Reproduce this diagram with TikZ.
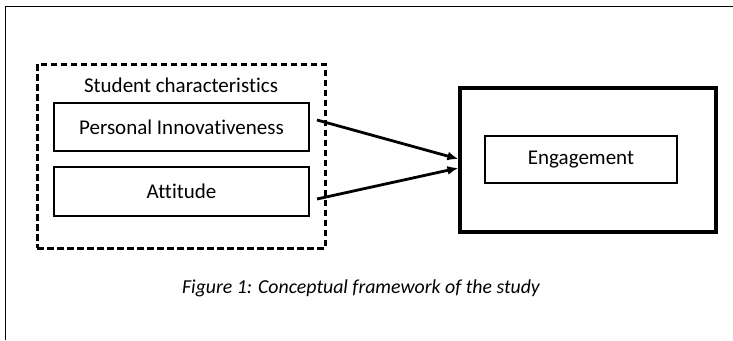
\documentclass[tikz,border=0pt]{standalone}
\usepackage{fontspec}
\setmainfont{Carlito}[Ligatures=NoCommon]
\usetikzlibrary{arrows, arrows.meta}
\usetikzlibrary{calc}

\begin{document}
\begin{tikzpicture}[x=1pt, y=-1pt,
    var/.style={rectangle, draw, line width=1.3pt, inner sep=0pt, minimum width=255pt, minimum height=48pt, font=\fontsize{21}{24}\selectfont},
    group/.style={rectangle, draw, dash pattern=on 6.5pt off 3.5pt, line width=3pt, inner sep=0pt, minimum width=288pt, minimum height=184pt},
    link/.style={-{Latex[length=11pt, width=9pt]}, line width=2.8pt}]
      \useasboundingbox (0,0) rectangle (733,340);

      % page frame (only top and left edges show)
      \draw[line width=1.4pt] (5.5,340) -- (5.5,6.5) -- (733,6.5);

      % student characteristics
      \node[group] (chars) at (181,156) {};
      \node[font=\fontsize{21}{24}\selectfont] (charslabel) at (181,85) {Student characteristics};
      \node[var] (innov) at (181.5,127) {Personal Innovativeness};
      \node[var, minimum height=49pt] (att) at (181.5,191.5) {Attitude};

      % outcome
      \node[rectangle, draw, line width=3.2pt, inner sep=0pt, minimum width=256pt, minimum height=144pt] (outcome) at (588,160) {};
      \node[var, minimum width=192pt, minimum height=47pt] (engage) at (581,159.5) {Engagement};

      \coordinate (innov-out) at (317,120);
      \coordinate (att-out) at (317,199);
      \coordinate (innov-in) at ($(outcome.west)+(0,-1)$);
      \coordinate (att-in) at ($(outcome.west)+(0,8)$);

      \draw[link] (innov-out) -- (innov-in);
      \draw[link] (att-out) -- (att-in);

      \node[font=\itshape\fontsize{19.8}{23}\selectfont] (caption) at (361,288) {Figure 1: Conceptual framework of the study};
\end{tikzpicture}
\end{document}
